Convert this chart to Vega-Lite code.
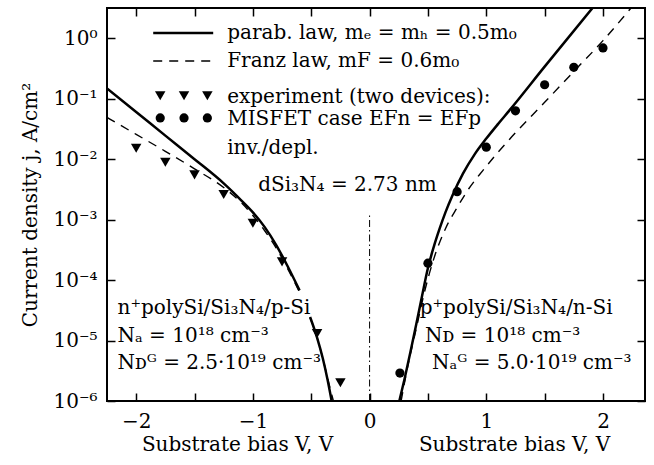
{
  "$schema": "https://vega.github.io/schema/vega-lite/v6.json",
  "width": 538,
  "height": 393,
  "autosize": {"type": "none"},
  "padding": {"left": 107, "top": 8, "right": 9, "bottom": 64},
  "background": "white",
  "config": {
    "view": {"stroke": "black", "strokeWidth": 2},
    "font": "DejaVu Serif",
    "axis": {
      "labelFont": "DejaVu Serif",
      "titleFont": "DejaVu Serif",
      "labelFontSize": 20,
      "titleFontSize": 20,
      "labelColor": "black",
      "titleColor": "black",
      "titleFontWeight": "normal",
      "tickColor": "black",
      "tickWidth": 1.5,
      "grid": false,
      "domain": false
    }
  },
  "datasets": {
    "curves": [
      {"law": "parab", "seg": "L1", "V": -2.25, "j": 0.148},
      {"law": "parab", "seg": "L1", "V": -2.0, "j": 0.0603},
      {"law": "parab", "seg": "L1", "V": -1.75, "j": 0.0245},
      {"law": "parab", "seg": "L1", "V": -1.5, "j": 0.0100},
      {"law": "parab", "seg": "L1", "V": -1.25, "j": 0.00398},
      {"law": "parab", "seg": "L1", "V": -1.1, "j": 0.00209},
      {"law": "parab", "seg": "L1", "V": -1.0, "j": 0.00132},
      {"law": "parab", "seg": "L1", "V": -0.9, "j": 0.000759},
      {"law": "parab", "seg": "L1", "V": -0.8, "j": 0.000380},
      {"law": "parab", "seg": "L1", "V": -0.7, "j": 0.000166},
      {"law": "parab", "seg": "L1", "V": -0.6, "j": 0.0000676},
      {"law": "parab", "seg": "L2", "V": -0.51, "j": 0.0000245},
      {"law": "parab", "seg": "L2", "V": -0.45, "j": 0.0000112},
      {"law": "parab", "seg": "L2", "V": -0.4, "j": 0.0000050},
      {"law": "parab", "seg": "L2", "V": -0.36, "j": 0.00000224},
      {"law": "parab", "seg": "L2", "V": -0.325, "j": 0.000001},
      {"law": "parab", "seg": "R", "V": 0.255, "j": 0.000001},
      {"law": "parab", "seg": "R", "V": 0.3, "j": 0.00000234},
      {"law": "parab", "seg": "R", "V": 0.35, "j": 0.00000646},
      {"law": "parab", "seg": "R", "V": 0.4, "j": 0.0000186},
      {"law": "parab", "seg": "R", "V": 0.45, "j": 0.0000550},
      {"law": "parab", "seg": "R", "V": 0.5, "j": 0.000158},
      {"law": "parab", "seg": "R", "V": 0.55, "j": 0.000355},
      {"law": "parab", "seg": "R", "V": 0.6, "j": 0.000708},
      {"law": "parab", "seg": "R", "V": 0.65, "j": 0.00132},
      {"law": "parab", "seg": "R", "V": 0.71, "j": 0.00251},
      {"law": "parab", "seg": "R", "V": 0.8, "j": 0.00575},
      {"law": "parab", "seg": "R", "V": 0.9, "j": 0.0120},
      {"law": "parab", "seg": "R", "V": 1.0, "j": 0.0219},
      {"law": "parab", "seg": "R", "V": 1.1, "j": 0.0380},
      {"law": "parab", "seg": "R", "V": 1.2, "j": 0.0646},
      {"law": "parab", "seg": "R", "V": 1.5, "j": 0.339},
      {"law": "parab", "seg": "R", "V": 1.91, "j": 3.162},
      {"law": "parab", "seg": "legend", "V": -1.854, "j": 1.22},
      {"law": "parab", "seg": "legend", "V": -1.34, "j": 1.22},
      {"law": "Franz", "seg": "L1", "V": -2.25, "j": 0.049},
      {"law": "Franz", "seg": "L1", "V": -2.0, "j": 0.0257},
      {"law": "Franz", "seg": "L1", "V": -1.75, "j": 0.0135},
      {"law": "Franz", "seg": "L1", "V": -1.5, "j": 0.00692},
      {"law": "Franz", "seg": "L1", "V": -1.25, "j": 0.00339},
      {"law": "Franz", "seg": "L1", "V": -1.1, "j": 0.00191},
      {"law": "Franz", "seg": "L1", "V": -1.0, "j": 0.00117},
      {"law": "Franz", "seg": "L1", "V": -0.9, "j": 0.000661},
      {"law": "Franz", "seg": "L1", "V": -0.8, "j": 0.000339},
      {"law": "Franz", "seg": "L1", "V": -0.7, "j": 0.000151},
      {"law": "Franz", "seg": "L1", "V": -0.6, "j": 0.0000631},
      {"law": "Franz", "seg": "L2", "V": -0.51, "j": 0.000024},
      {"law": "Franz", "seg": "L2", "V": -0.45, "j": 0.0000112},
      {"law": "Franz", "seg": "L2", "V": -0.4, "j": 0.000005},
      {"law": "Franz", "seg": "L2", "V": -0.35, "j": 0.000002},
      {"law": "Franz", "seg": "L2", "V": -0.31, "j": 0.000001},
      {"law": "Franz", "seg": "R", "V": 0.27, "j": 0.000001},
      {"law": "Franz", "seg": "R", "V": 0.33, "j": 0.00000398},
      {"law": "Franz", "seg": "R", "V": 0.4, "j": 0.0000158},
      {"law": "Franz", "seg": "R", "V": 0.47, "j": 0.0000631},
      {"law": "Franz", "seg": "R", "V": 0.55, "j": 0.000224},
      {"law": "Franz", "seg": "R", "V": 0.65, "j": 0.000708},
      {"law": "Franz", "seg": "R", "V": 0.75, "j": 0.00158},
      {"law": "Franz", "seg": "R", "V": 0.85, "j": 0.00324},
      {"law": "Franz", "seg": "R", "V": 0.97, "j": 0.00646},
      {"law": "Franz", "seg": "R", "V": 1.09, "j": 0.0123},
      {"law": "Franz", "seg": "R", "V": 1.2, "j": 0.0214},
      {"law": "Franz", "seg": "R", "V": 1.5, "j": 0.0871},
      {"law": "Franz", "seg": "R", "V": 1.75, "j": 0.282},
      {"law": "Franz", "seg": "R", "V": 2.0, "j": 0.912},
      {"law": "Franz", "seg": "R", "V": 2.24, "j": 3.162},
      {"law": "Franz", "seg": "legend", "V": -1.854, "j": 0.42},
      {"law": "Franz", "seg": "legend", "V": -1.34, "j": 0.42}
    ],
    "points": [
      {"kind": "experiment", "V": -2.0, "j": 0.0151},
      {"kind": "experiment", "V": -1.75, "j": 0.0089},
      {"kind": "experiment", "V": -1.5, "j": 0.0055},
      {"kind": "experiment", "V": -1.25, "j": 0.0026},
      {"kind": "experiment", "V": -1.0, "j": 0.00087},
      {"kind": "experiment", "V": -0.75, "j": 0.0002},
      {"kind": "experiment", "V": -0.45, "j": 0.000013},
      {"kind": "experiment", "V": -0.25, "j": 0.000002},
      {"kind": "experiment", "V": -1.794, "j": 0.112},
      {"kind": "experiment", "V": -1.59, "j": 0.112},
      {"kind": "experiment", "V": -1.39, "j": 0.112},
      {"kind": "MISFET", "V": 0.26, "j": 0.0000029},
      {"kind": "MISFET", "V": 0.5, "j": 0.00019},
      {"kind": "MISFET", "V": 0.75, "j": 0.0029},
      {"kind": "MISFET", "V": 1.0, "j": 0.0158},
      {"kind": "MISFET", "V": 1.25, "j": 0.063},
      {"kind": "MISFET", "V": 1.5, "j": 0.17},
      {"kind": "MISFET", "V": 1.75, "j": 0.33},
      {"kind": "MISFET", "V": 2.0, "j": 0.69},
      {"kind": "MISFET", "V": -1.794, "j": 0.048},
      {"kind": "MISFET", "V": -1.59, "j": 0.048},
      {"kind": "MISFET", "V": -1.39, "j": 0.048}
    ],
    "labels": [
      {"V": -1.22, "j": 1.22, "label": "parab. law, mₑ = mₕ = 0.5m₀"},
      {"V": -1.22, "j": 0.42, "label": "Franz law, mF = 0.6m₀"},
      {"V": -1.22, "j": 0.107, "label": "experiment (two devices):"},
      {"V": -1.22, "j": 0.046, "label": "MISFET case EFn = EFp"},
      {"V": -1.22, "j": 0.0153, "label": "inv./depl."},
      {"V": -0.955, "j": 0.00374, "label": "dSi₃N₄ = 2.73 nm"},
      {"V": -2.16, "j": 0.000034, "label": "n⁺polySi/Si₃N₄/p-Si"},
      {"V": -2.16, "j": 0.0000119, "label": "Nₐ = 10¹⁸ cm⁻³"},
      {"V": -2.16, "j": 0.00000427, "label": "Nᴅᴳ = 2.5·10¹⁹ cm⁻³"},
      {"V": 0.43, "j": 0.000034, "label": "p⁺polySi/Si₃N₄/n-Si"},
      {"V": 0.475, "j": 0.0000119, "label": "Nᴅ = 10¹⁸ cm⁻³"},
      {"V": 0.535, "j": 0.00000427, "label": "Nₐᴳ = 5.0·10¹⁹ cm⁻³"}
    ],
    "marker": [
      {"V": 0, "j": 0.000001, "j2": 0.0012}
    ]
  },
  "resolve": {"axis": {"x": "independent", "y": "independent"}},
  "layer": [
    {
      "data": {"name": "curves"},
      "transform": [{"filter": "datum.law === 'parab'"}],
      "mark": {"type": "line", "stroke": "black", "strokeWidth": 2.5, "interpolate": "monotone", "clip": true},
      "encoding": {
        "x": {
          "field": "V", "type": "quantitative",
          "scale": {"domain": [-2.25, 2.36], "nice": false, "zero": false},
          "axis": {
            "orient": "bottom",
            "values": [-2, -1.5, -1, -0.5, 0, 0.5, 1, 1.5, 2],
            "tickSize": -8,
            "labelPadding": 18,
            "labelFlush": false,
            "labelExpr": "datum.value % 1 == 0 ? datum.label : ''",
            "format": ".0f",
            "title": "Substrate bias V, V",
            "titleX": 130,
            "titleY": 49,
            "titleBaseline": "alphabetic"
          }
        },
        "y": {
          "field": "j", "type": "quantitative",
          "scale": {"type": "log", "domain": [0.000001, 3.1623], "nice": false},
          "axis": {
            "orient": "left",
            "values": [0.000001, 0.00001, 0.0001, 0.001, 0.01, 0.1, 1],
            "tickSize": -8,
            "labelPadding": 18,
            "labelFlush": false,
            "labelExpr": "'10' + ['⁰','⁻¹','⁻²','⁻³','⁻⁴','⁻⁵','⁻⁶'][round(-log(datum.value)/LN10)]",
            "title": "Current density j, A/cm²",
            "titleX": -77,
            "titleY": 196.5,
            "titleBaseline": "middle"
          }
        },
        "detail": {"field": "seg"}
      }
    },
    {
      "data": {"name": "curves"},
      "transform": [{"filter": "datum.law === 'Franz'"}],
      "mark": {"type": "line", "stroke": "black", "strokeWidth": 1.4, "strokeDash": [9, 7], "interpolate": "monotone", "clip": true},
      "encoding": {
        "x": {
          "field": "V", "type": "quantitative",
          "scale": {"domain": [-2.25, 2.36], "nice": false, "zero": false},
          "axis": {
            "orient": "top",
            "values": [-2, -1.5, -1, -0.5, 0, 0.5, 1, 1.5, 2],
            "tickSize": -8,
            "labels": false,
            "title": "Substrate bias V, V",
            "titleX": 407,
            "titleY": 442,
            "titleBaseline": "alphabetic"
          }
        },
        "y": {
          "field": "j", "type": "quantitative",
          "scale": {"type": "log", "domain": [0.000001, 3.1623], "nice": false},
          "axis": {
            "orient": "right",
            "values": [0.000001, 0.00001, 0.0001, 0.001, 0.01, 0.1, 1],
            "tickSize": -8,
            "labels": false,
            "title": null
          }
        },
        "detail": {"field": "seg"}
      }
    },
    {
      "data": {"name": "marker"},
      "mark": {"type": "rule", "color": "black", "strokeWidth": 1, "strokeDash": [7, 3, 1.5, 3]},
      "encoding": {
        "x": {"field": "V", "type": "quantitative", "scale": {"domain": [-2.25, 2.36], "nice": false, "zero": false}, "axis": null},
        "y": {"field": "j", "type": "quantitative", "scale": {"type": "log", "domain": [0.000001, 3.1623], "nice": false}, "axis": null},
        "y2": {"field": "j2"}
      }
    },
    {
      "data": {"name": "points"},
      "transform": [{"filter": "datum.kind === 'experiment'"}],
      "mark": {"type": "point", "shape": "triangle-down", "filled": true, "color": "black", "opacity": 1, "size": 110},
      "encoding": {
        "x": {"field": "V", "type": "quantitative", "scale": {"domain": [-2.25, 2.36], "nice": false, "zero": false}, "axis": null},
        "y": {"field": "j", "type": "quantitative", "scale": {"type": "log", "domain": [0.000001, 3.1623], "nice": false}, "axis": null}
      }
    },
    {
      "data": {"name": "points"},
      "transform": [{"filter": "datum.kind === 'MISFET'"}],
      "mark": {"type": "circle", "color": "black", "opacity": 1, "size": 85},
      "encoding": {
        "x": {"field": "V", "type": "quantitative", "scale": {"domain": [-2.25, 2.36], "nice": false, "zero": false}, "axis": null},
        "y": {"field": "j", "type": "quantitative", "scale": {"type": "log", "domain": [0.000001, 3.1623], "nice": false}, "axis": null}
      }
    },
    {
      "data": {"name": "labels"},
      "mark": {"type": "text", "align": "left", "baseline": "middle", "font": "DejaVu Serif", "fontSize": 20, "color": "black"},
      "encoding": {
        "x": {"field": "V", "type": "quantitative", "scale": {"domain": [-2.25, 2.36], "nice": false, "zero": false}, "axis": null},
        "y": {"field": "j", "type": "quantitative", "scale": {"type": "log", "domain": [0.000001, 3.1623], "nice": false}, "axis": null},
        "text": {"field": "label"}
      }
    }
  ]
}
